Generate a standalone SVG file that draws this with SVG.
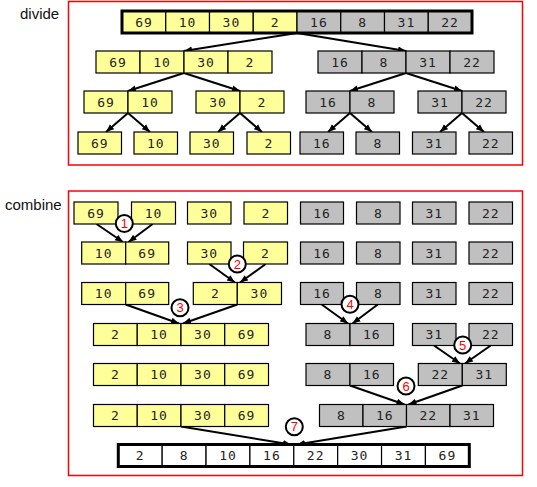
<svg xmlns="http://www.w3.org/2000/svg" width="537" height="487" viewBox="0 0 537 487">
<style>
.frame{fill:none;stroke:#ff0000;stroke-width:1.5}
.y{fill:#ffff99;stroke:#000;stroke-width:1.2}
.g{fill:#c0c0c0;stroke:#000;stroke-width:1.2}
.w{fill:#ffffff;stroke:#000;stroke-width:1.2}
.thick{fill:none;stroke:#000;stroke-width:3}
.t{font-family:"DejaVu Sans Mono","Liberation Mono",monospace;font-size:13px;fill:#222;text-anchor:middle;letter-spacing:1px}
.lbl{font-family:"Liberation Sans",Arial,sans-serif;font-size:15px;fill:#111}
.con line{stroke:#000;stroke-width:2;marker-end:url(#ah)}
.step circle{fill:#fff;stroke:#000;stroke-width:2}
.step text{font-family:"Liberation Sans",Arial,sans-serif;font-size:13px;fill:#ff0000;text-anchor:middle}
</style>
<defs>
<marker id="ah" viewBox="0 0 10 10" refX="10" refY="5" markerWidth="8" markerHeight="8" markerUnits="userSpaceOnUse" orient="auto">
<path d="M0,1 L10,5 L0,9 z" fill="#000"/>
</marker>
</defs>
<rect class="frame" x="68.5" y="1.5" width="454" height="163.5"/>
<rect class="frame" x="68.5" y="191" width="454" height="284.5"/>
<text class="lbl" x="20" y="19">divide</text>
<text class="lbl" x="5" y="210">combine</text>

<g id="connectors" class="con">
<line x1="297" y1="33" x2="184" y2="51"/>
<line x1="297" y1="33" x2="406" y2="51"/>
<line x1="184" y1="73" x2="128" y2="91"/>
<line x1="184" y1="73" x2="240" y2="91"/>
<line x1="406" y1="73" x2="350" y2="91"/>
<line x1="406" y1="73" x2="462" y2="91"/>
<line x1="128" y1="113" x2="106" y2="132"/>
<line x1="128" y1="113" x2="150" y2="132"/>
<line x1="240" y1="113" x2="218" y2="132"/>
<line x1="240" y1="113" x2="262" y2="132"/>
<line x1="350" y1="113" x2="328" y2="132"/>
<line x1="350" y1="113" x2="372" y2="132"/>
<line x1="462" y1="113" x2="440" y2="132"/>
<line x1="462" y1="113" x2="484" y2="132"/>
<line x1="96.5" y1="224" x2="123" y2="242"/>
<line x1="152.7" y1="224" x2="128.5" y2="242"/>
<line x1="209.3" y1="264" x2="235" y2="282.5"/>
<line x1="265.7" y1="264" x2="240" y2="282.5"/>
<line x1="125.7" y1="304.5" x2="179" y2="323.5"/>
<line x1="237.3" y1="304.5" x2="183" y2="323.5"/>
<line x1="321.7" y1="304.5" x2="348" y2="323.5"/>
<line x1="377.7" y1="304.5" x2="352.5" y2="323.5"/>
<line x1="434" y1="345.5" x2="460" y2="363.5"/>
<line x1="490.7" y1="345.5" x2="465" y2="363.5"/>
<line x1="350" y1="385.5" x2="404.5" y2="404.5"/>
<line x1="462.3" y1="385.5" x2="408.5" y2="404.5"/>
<line x1="181" y1="426.5" x2="291" y2="444.5"/>
<line x1="406.5" y1="426.5" x2="297" y2="444.5"/>
</g>

<!-- divide -->
<g id="d0">
<rect class="y" x="122" y="11" width="43.75" height="22"/><rect class="y" x="165.75" y="11" width="43.75" height="22"/><rect class="y" x="209.5" y="11" width="43.75" height="22"/><rect class="y" x="253.25" y="11" width="43.75" height="22"/>
<rect class="g" x="297" y="11" width="43.75" height="22"/><rect class="g" x="340.75" y="11" width="43.75" height="22"/><rect class="g" x="384.5" y="11" width="43.75" height="22"/><rect class="g" x="428.25" y="11" width="43.75" height="22"/>
<rect class="thick" x="122" y="11" width="350" height="22"/>
<text class="t" x="144" y="26.5">69</text><text class="t" x="187.6" y="26.5">10</text><text class="t" x="231.4" y="26.5">30</text><text class="t" x="275.1" y="26.5">2</text>
<text class="t" x="318.9" y="26.5">16</text><text class="t" x="362.6" y="26.5">8</text><text class="t" x="406.4" y="26.5">31</text><text class="t" x="450.1" y="26.5">22</text>
</g>
<g id="d1a">
<rect class="y" x="96" y="51" width="44" height="22"/><rect class="y" x="140" y="51" width="44" height="22"/><rect class="y" x="184" y="51" width="44" height="22"/><rect class="y" x="228" y="51" width="44" height="22"/>
<text class="t" x="118" y="66.5">69</text><text class="t" x="162" y="66.5">10</text><text class="t" x="206" y="66.5">30</text><text class="t" x="250" y="66.5">2</text>
</g>
<g id="d1b">
<rect class="g" x="318" y="51" width="44" height="22"/><rect class="g" x="362" y="51" width="44" height="22"/><rect class="g" x="406" y="51" width="44" height="22"/><rect class="g" x="450" y="51" width="44" height="22"/>
<text class="t" x="340" y="66.5">16</text><text class="t" x="384" y="66.5">8</text><text class="t" x="428" y="66.5">31</text><text class="t" x="472" y="66.5">22</text>
</g>
<g id="d2a">
<rect class="y" x="84" y="91" width="44" height="22"/><rect class="y" x="128" y="91" width="44" height="22"/>
<text class="t" x="106" y="106.5">69</text><text class="t" x="150" y="106.5">10</text>
</g>
<g id="d2b">
<rect class="y" x="196" y="91" width="44" height="22"/><rect class="y" x="240" y="91" width="44" height="22"/>
<text class="t" x="218" y="106.5">30</text><text class="t" x="262" y="106.5">2</text>
</g>
<g id="d2c">
<rect class="g" x="306" y="91" width="44" height="22"/><rect class="g" x="350" y="91" width="44" height="22"/>
<text class="t" x="328" y="106.5">16</text><text class="t" x="372" y="106.5">8</text>
</g>
<g id="d2d">
<rect class="g" x="418" y="91" width="44" height="22"/><rect class="g" x="462" y="91" width="44" height="22"/>
<text class="t" x="440" y="106.5">31</text><text class="t" x="484" y="106.5">22</text>
</g>
<g id="d3a"><rect class="y" x="78" y="132" width="43.5" height="22"/><text class="t" x="99.8" y="147.5">69</text></g>
<g id="d3b"><rect class="y" x="134" y="132" width="43.5" height="22"/><text class="t" x="155.8" y="147.5">10</text></g>
<g id="d3c"><rect class="y" x="190" y="132" width="43.5" height="22"/><text class="t" x="211.8" y="147.5">30</text></g>
<g id="d3d"><rect class="y" x="247" y="132" width="43.5" height="22"/><text class="t" x="268.8" y="147.5">2</text></g>
<g id="d3e"><rect class="g" x="300" y="132" width="43.5" height="22"/><text class="t" x="321.8" y="147.5">16</text></g>
<g id="d3f"><rect class="g" x="356" y="132" width="43.5" height="22"/><text class="t" x="377.8" y="147.5">8</text></g>
<g id="d3g"><rect class="g" x="412.5" y="132" width="43.5" height="22"/><text class="t" x="434.3" y="147.5">31</text></g>
<g id="d3h"><rect class="g" x="469" y="132" width="43.5" height="22"/><text class="t" x="490.8" y="147.5">22</text></g>

<!-- combine row 1 -->
<g id="c1a"><rect class="y" x="74" y="202" width="44" height="22"/><text class="t" x="96" y="217.5">69</text></g>
<g id="c1b"><rect class="y" x="131.5" y="202" width="44" height="22"/><text class="t" x="153.5" y="217.5">10</text></g>
<g id="c1c"><rect class="y" x="187.5" y="202" width="43.5" height="22"/><text class="t" x="209.3" y="217.5">30</text></g>
<g id="c1d"><rect class="y" x="244" y="202" width="43.5" height="22"/><text class="t" x="265.8" y="217.5">2</text></g>
<g id="c1e"><rect class="g" x="300.5" y="202" width="43" height="22"/><text class="t" x="322" y="217.5">16</text></g>
<g id="c1f"><rect class="g" x="356.5" y="202" width="43.5" height="22"/><text class="t" x="378.3" y="217.5">8</text></g>
<g id="c1g"><rect class="g" x="412.5" y="202" width="43.5" height="22"/><text class="t" x="434.3" y="217.5">31</text></g>
<g id="c1h"><rect class="g" x="469" y="202" width="43.5" height="22"/><text class="t" x="490.8" y="217.5">22</text></g>

<!-- combine row 2 -->
<g id="c2a">
<rect class="y" x="81.7" y="242" width="44" height="22"/><rect class="y" x="125.7" y="242" width="43" height="22"/>
<text class="t" x="103.7" y="257.5">10</text><text class="t" x="147.2" y="257.5">69</text>
</g>
<g id="c2b"><rect class="y" x="187.5" y="242" width="43.5" height="22"/><text class="t" x="209.3" y="257.5">30</text></g>
<g id="c2c"><rect class="y" x="243.5" y="242" width="44" height="22"/><text class="t" x="265.5" y="257.5">2</text></g>
<g id="c2d"><rect class="g" x="300.5" y="242" width="43" height="22"/><text class="t" x="322" y="257.5">16</text></g>
<g id="c2e"><rect class="g" x="356.5" y="242" width="43.5" height="22"/><text class="t" x="378.3" y="257.5">8</text></g>
<g id="c2f"><rect class="g" x="412.5" y="242" width="43.5" height="22"/><text class="t" x="434.3" y="257.5">31</text></g>
<g id="c2g"><rect class="g" x="469" y="242" width="43.5" height="22"/><text class="t" x="490.8" y="257.5">22</text></g>

<!-- combine row 3 -->
<g id="c3a">
<rect class="y" x="81.7" y="282.5" width="44" height="22"/><rect class="y" x="125.7" y="282.5" width="43" height="22"/>
<text class="t" x="103.7" y="298">10</text><text class="t" x="147.2" y="298">69</text>
</g>
<g id="c3b">
<rect class="y" x="193.3" y="282.5" width="44" height="22"/><rect class="y" x="237.3" y="282.5" width="44.2" height="22"/>
<text class="t" x="215.3" y="298">2</text><text class="t" x="259.4" y="298">30</text>
</g>
<g id="c3c"><rect class="g" x="300.5" y="282.5" width="43" height="22"/><text class="t" x="322" y="298">16</text></g>
<g id="c3d"><rect class="g" x="356.5" y="282.5" width="43.5" height="22"/><text class="t" x="378.3" y="298">8</text></g>
<g id="c3e"><rect class="g" x="412.5" y="282.5" width="43.5" height="22"/><text class="t" x="434.3" y="298">31</text></g>
<g id="c3f"><rect class="g" x="469" y="282.5" width="43.5" height="22"/><text class="t" x="490.8" y="298">22</text></g>

<!-- combine row 4 -->
<g id="c4a">
<rect class="y" x="93.5" y="323.5" width="43.75" height="22"/><rect class="y" x="137.25" y="323.5" width="43.75" height="22"/><rect class="y" x="181" y="323.5" width="43.75" height="22"/><rect class="y" x="224.75" y="323.5" width="43.75" height="22"/>
<text class="t" x="115.4" y="339">2</text><text class="t" x="159.1" y="339">10</text><text class="t" x="202.9" y="339">30</text><text class="t" x="246.6" y="339">69</text>
</g>
<g id="c4b">
<rect class="g" x="306" y="323.5" width="44" height="22"/><rect class="g" x="350" y="323.5" width="43.5" height="22"/>
<text class="t" x="328" y="339">8</text><text class="t" x="371.8" y="339">16</text>
</g>
<g id="c4c"><rect class="g" x="412.5" y="323.5" width="43.5" height="22"/><text class="t" x="434.3" y="339">31</text></g>
<g id="c4d"><rect class="g" x="469" y="323.5" width="43.5" height="22"/><text class="t" x="490.8" y="339">22</text></g>

<!-- combine row 5 -->
<g id="c5a">
<rect class="y" x="93.5" y="363.5" width="43.75" height="22"/><rect class="y" x="137.25" y="363.5" width="43.75" height="22"/><rect class="y" x="181" y="363.5" width="43.75" height="22"/><rect class="y" x="224.75" y="363.5" width="43.75" height="22"/>
<text class="t" x="115.4" y="379">2</text><text class="t" x="159.1" y="379">10</text><text class="t" x="202.9" y="379">30</text><text class="t" x="246.6" y="379">69</text>
</g>
<g id="c5b">
<rect class="g" x="306" y="363.5" width="44" height="22"/><rect class="g" x="350" y="363.5" width="43.5" height="22"/>
<text class="t" x="328" y="379">8</text><text class="t" x="371.8" y="379">16</text>
</g>
<g id="c5c">
<rect class="g" x="418.3" y="363.5" width="44" height="22"/><rect class="g" x="462.3" y="363.5" width="44" height="22"/>
<text class="t" x="440.3" y="379">22</text><text class="t" x="484.3" y="379">31</text>
</g>

<!-- combine row 6 -->
<g id="c6a">
<rect class="y" x="93.5" y="404.5" width="43.75" height="22"/><rect class="y" x="137.25" y="404.5" width="43.75" height="22"/><rect class="y" x="181" y="404.5" width="43.75" height="22"/><rect class="y" x="224.75" y="404.5" width="43.75" height="22"/>
<text class="t" x="115.4" y="420">2</text><text class="t" x="159.1" y="420">10</text><text class="t" x="202.9" y="420">30</text><text class="t" x="246.6" y="420">69</text>
</g>
<g id="c6b">
<rect class="g" x="319.5" y="404.5" width="43.5" height="22"/><rect class="g" x="363" y="404.5" width="43.5" height="22"/><rect class="g" x="406.5" y="404.5" width="43.5" height="22"/><rect class="g" x="450" y="404.5" width="43.5" height="22"/>
<text class="t" x="341.3" y="420">8</text><text class="t" x="384.8" y="420">16</text><text class="t" x="428.3" y="420">22</text><text class="t" x="471.8" y="420">31</text>
</g>

<!-- final -->
<g id="final">
<rect class="w" x="118.3" y="444.5" width="43.875" height="22"/><rect class="w" x="162.175" y="444.5" width="43.875" height="22"/><rect class="w" x="206.05" y="444.5" width="43.875" height="22"/><rect class="w" x="249.925" y="444.5" width="43.875" height="22"/>
<rect class="w" x="293.8" y="444.5" width="43.875" height="22"/><rect class="w" x="337.675" y="444.5" width="43.875" height="22"/><rect class="w" x="381.55" y="444.5" width="43.875" height="22"/><rect class="w" x="425.425" y="444.5" width="43.875" height="22"/>
<rect class="thick" x="118.3" y="444.5" width="351" height="22"/>
<text class="t" x="140.2" y="460">2</text><text class="t" x="184.1" y="460">8</text><text class="t" x="228" y="460">10</text><text class="t" x="271.9" y="460">16</text>
<text class="t" x="315.7" y="460">22</text><text class="t" x="359.6" y="460">30</text><text class="t" x="403.5" y="460">31</text><text class="t" x="447.4" y="460">69</text>
</g>

<g id="steps" class="step">
<circle cx="124.3" cy="223.5" r="8.5"/><text x="124.3" y="228">1</text>
<circle cx="237.3" cy="264" r="8.5"/><text x="237.3" y="268.5">2</text>
<circle cx="180" cy="307.7" r="8.5"/><text x="180" y="312.2">3</text>
<circle cx="350" cy="304.3" r="8.5"/><text x="350" y="308.8">4</text>
<circle cx="462.7" cy="345" r="8.5"/><text x="462.7" y="349.5">5</text>
<circle cx="406" cy="386" r="8.5"/><text x="406" y="390.5">6</text>
<circle cx="294.3" cy="426.7" r="8.5"/><text x="294.3" y="431.2">7</text>
</g>
</svg>
